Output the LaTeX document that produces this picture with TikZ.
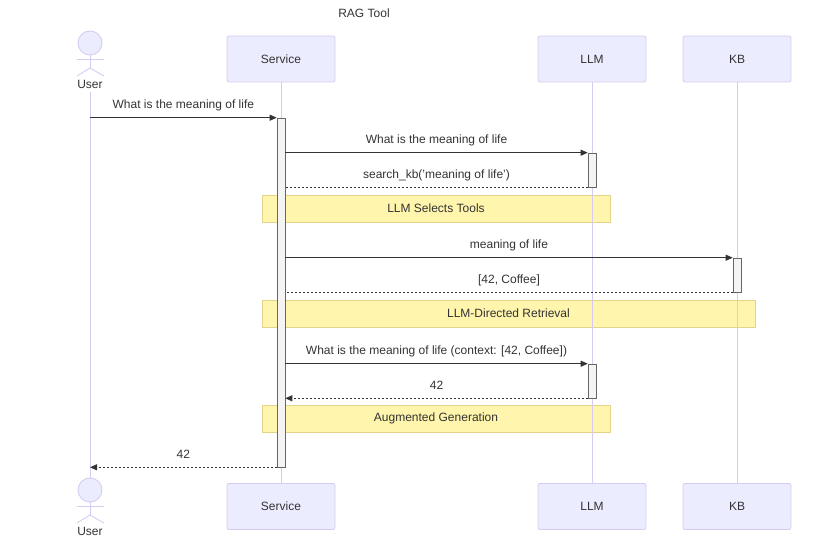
\documentclass[tikz,border=0pt]{standalone}
\usepackage{fontspec}
\setmainfont{Liberation Sans}
\usetikzlibrary{arrows.meta,positioning}
\definecolor{actorfill}{HTML}{ECECFF}
\definecolor{actorline}{HTML}{D6CCF2}
\definecolor{lifecol}{HTML}{D6CCF2}
\definecolor{notefill}{HTML}{FFF5AD}
\definecolor{notedraw}{HTML}{E3D48A}
\definecolor{actfill}{HTML}{F4F4F4}
\definecolor{txt}{HTML}{333333}
\tikzset{
  every node/.style={text=txt, font=\fontsize{12}{14}\selectfont},
  actorbox/.style={draw=actorline, fill=actorfill, rounded corners=2pt, minimum width=108pt, minimum height=46pt, line width=0.8pt},
  head/.style={circle, draw=actorline, fill=actorfill, minimum size=24pt, inner sep=0pt, line width=0.9pt},
  limb/.style={draw=actorline, line width=0.9pt},
  lifeline/.style={draw=lifecol, line width=0.9pt},
  actbar/.style={draw=black!60, fill=actfill, minimum width=8pt, inner sep=0pt, line width=0.6pt},
  notebox/.style={draw=notedraw, fill=notefill, minimum height=27pt, inner sep=0pt, line width=0.6pt},
  msg/.style={draw=txt, line width=0.8pt, -{Triangle[length=7pt,width=6pt]}},
  reply/.style={draw=txt, line width=0.8pt, dash pattern=on 2pt off 2pt},
  replyarrow/.style={reply, -{Triangle[length=7pt,width=6pt]}},
  lbl/.style={midway, anchor=base, yshift=9pt}
}
\begin{document}
\begin{tikzpicture}[x=1pt,y=-1pt]
  \useasboundingbox (0,0) rectangle (828,556);
  \node (title) at (364,13) {RAG Tool};
  % participants, top row
  \node[head] (userT) at (90,43) {};
  \draw[limb] (userT.south) -- (90,68);
  \draw[limb] (77,59) -- (104,59);
  \draw[limb] (77,76) -- (90,68) -- (104,76);
  \node (userTl) at (90,84) {User};
  \node[actorbox] (serviceT) at (281,59) {Service};
  \node[actorbox] (llmT) at (592,59) {LLM};
  \node[actorbox] (kbT) at (737,59) {KB};
  % participants, bottom row
  \node[head] (userB) at (90,490) {};
  \draw[limb] (userB.south) -- (90,515);
  \draw[limb] (77,506) -- (104,506);
  \draw[limb] (77,523) -- (90,515) -- (104,523);
  \node (userBl) at (90,531) {User};
  \node[actorbox] (serviceB) at (281,506.5) {Service};
  \node[actorbox] (llmB) at (592,506.5) {LLM};
  \node[actorbox] (kbB) at (737,506.5) {KB};
  % notes
  \node[notebox, minimum width=348pt] (note1) at (436,208.5) {LLM Selects Tools};
  \node[notebox, minimum width=493pt] (note2) at (508.5,313.5) {LLM-Directed Retrieval};
  \node[notebox, minimum width=348pt] (note3) at (436,418.5) {Augmented Generation};
  % lifelines
  \draw[lifeline] (userTl.south) -- (userB.north);
  \draw[lifeline] (serviceT) -- (serviceB);
  \draw[lifeline] (llmT) -- (llmB);
  \draw[lifeline] (kbT) -- (kbB);
  % activations
  \node[actbar, minimum height=349pt] (svcAct) at (281,292.5) {};
  \node[actbar, minimum height=34pt] (llmAct1) at (592,170) {};
  \node[actbar, minimum height=34pt] (kbAct) at (737,275) {};
  \node[actbar, minimum height=34pt] (llmAct2) at (592,381) {};
  % messages
  \draw[msg] (userTl |- svcAct.north) -- (svcAct.north west) node[lbl] {What is the meaning of life};
  \draw[msg] (svcAct.east |- llmAct1.north) -- (llmAct1.north west) node[lbl] {What is the meaning of life};
  \draw[reply] (llmAct1.south west) -- (svcAct.east |- llmAct1.south) node[lbl] {search\_kb('meaning of life')};
  \draw[msg] (svcAct.east |- kbAct.north) -- (kbAct.north west) node[lbl] {meaning of life};
  \draw[reply] (kbAct.south west) -- (svcAct.east |- kbAct.south) node[lbl] {[42, Coffee]};
  \draw[msg] (svcAct.east |- llmAct2.north) -- (llmAct2.north west) node[lbl] {What is the meaning of life (context: [42, Coffee])};
  \draw[replyarrow] (llmAct2.south west) -- (svcAct.east |- llmAct2.south) node[lbl] {42};
  \draw[replyarrow] (svcAct.south west) -- (userTl |- svcAct.south) node[lbl] {42};
\end{tikzpicture}
\end{document}
